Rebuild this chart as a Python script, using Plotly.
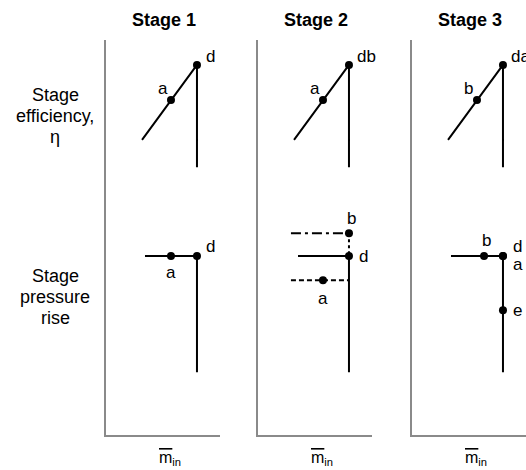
import plotly.graph_objects as go

W, H = 526, 470
FONT = "Liberation Sans, Arial, sans-serif"

stage_titles = ["Stage 1", "Stage 2", "Stage 3"]
row_labels = [["Stage", "efficiency,", "η"], ["Stage", "pressure", "rise"]]
row_label_y = [[95, 116, 137], [276, 297, 318]]

# panel boxes (pixels) used for axis domains
panel_left = [106, 258, 412]
panel_width = 114
axes_top, axes_bottom = 40, 435

# ---- efficiency characteristic (m_in, eta), arbitrary units ----
eff_curve_x = [3.16, 7.98, 7.98]
eff_curve_y = [7.47, 9.37, 6.78]
eff_points = [
    [("a", 5.70, 8.48), ("d", 7.98, 9.37)],
    [("a", 5.70, 8.48), ("db", 7.98, 9.37)],
    [("b", 5.70, 8.48), ("da", 7.98, 9.37)],
]

# ---- pressure-rise characteristic (m_in, dp), arbitrary units ----
pr_curve_x = [[3.42, 7.98, 7.98], [3.51, 7.98, 7.98], [3.42, 7.98, 7.98]]
pr_curve_y = [[4.53, 4.53, 1.59], [4.53, 4.53, 1.59], [4.53, 4.53, 1.59]]
# stage 2 off-design lines
pr2_high_x, pr2_high_y = [2.89, 7.98], [5.11, 5.11]
pr2_link_x, pr2_link_y = [7.98, 7.98], [5.11, 4.53]
pr2_low_x, pr2_low_y = [2.89, 7.98], [3.92, 3.92]
pr_points = [
    [("a", 5.70, 4.53), ("d", 7.98, 4.53)],
    [("b", 7.98, 5.11), ("d", 7.98, 4.53), ("a", 5.70, 3.92)],
    [("b", 6.32, 4.53), ("d", 7.98, 4.53), ("a", 7.98, 4.53), ("e", 7.98, 3.16)],
]

# label placement (xanchor, xshift, yshift) per point
eff_label_pos = [
    [("center", -8, 12), ("left", 7, 8)],
    [("center", -8, 12), ("left", 6, 8)],
    [("center", -8, 12), ("left", 6, 8)],
]
pr_label_pos = [
    [("center", 0, -16), ("left", 7, 10)],
    [("center", 3, 15), ("left", 8, 0), ("center", 0, -18)],
    [("center", 2, 16), ("left", 8, 10), ("left", 8, -8), ("left", 8, 0)],
]

fig = go.Figure()
line_style = dict(color="black", width=2)
axis_color = "#8a8a8a"

annotations = []
for i in range(3):
    sfx = "" if i == 0 else str(i + 1)
    xa, ya = "x" + sfx, "y" + sfx
    L = panel_left[i]
    fig.update_layout(**{
        "xaxis" + sfx: dict(
            domain=[L / W, min(1.0, (L + panel_width) / W)],
            range=[0, 10], showline=True, linecolor=axis_color, linewidth=2,
            showgrid=False, zeroline=False, showticklabels=False, ticks="",
            anchor=ya, fixedrange=True),
        "yaxis" + sfx: dict(
            domain=[1 - axes_bottom / H, 1 - axes_top / H],
            range=[0, 10], showline=True, linecolor=axis_color, linewidth=2,
            showgrid=False, zeroline=False, showticklabels=False, ticks="",
            anchor=xa, fixedrange=True),
    })

    # efficiency curve
    fig.add_trace(go.Scatter(x=eff_curve_x, y=eff_curve_y, mode="lines",
                             line=line_style, xaxis=xa, yaxis=ya,
                             hoverinfo="skip", showlegend=False))
    # pressure-rise curves
    fig.add_trace(go.Scatter(x=pr_curve_x[i], y=pr_curve_y[i], mode="lines",
                             line=line_style, xaxis=xa, yaxis=ya,
                             hoverinfo="skip", showlegend=False))
    if i == 1:
        fig.add_trace(go.Scatter(x=pr2_high_x, y=pr2_high_y, mode="lines",
                                 line=dict(color="black", width=2, dash="10px,4px,3px,4px"),
                                 xaxis=xa, yaxis=ya, hoverinfo="skip", showlegend=False))
        fig.add_trace(go.Scatter(x=pr2_link_x, y=pr2_link_y, mode="lines",
                                 line=dict(color="black", width=2, dash="3px,3px"),
                                 xaxis=xa, yaxis=ya, hoverinfo="skip", showlegend=False))
        fig.add_trace(go.Scatter(x=pr2_low_x, y=pr2_low_y, mode="lines",
                                 line=dict(color="black", width=2, dash="5px,3px"),
                                 xaxis=xa, yaxis=ya, hoverinfo="skip", showlegend=False))

    # operating points
    for pts, pos in ((eff_points[i], eff_label_pos[i]), (pr_points[i], pr_label_pos[i])):
        fig.add_trace(go.Scatter(x=[p[1] for p in pts], y=[p[2] for p in pts],
                                 mode="markers", marker=dict(color="black", size=8),
                                 xaxis=xa, yaxis=ya, hoverinfo="skip", showlegend=False))
        for (name, px, py), (anc, dx, dy) in zip(pts, pos):
            annotations.append(dict(
                x=px, y=py, xref=xa, yref=ya, text=name, showarrow=False,
                xanchor=anc, yanchor="middle", xshift=dx, yshift=dy,
                font=dict(family=FONT, size=17, color="black")))

    # stage title
    annotations.append(dict(
        x=(L + panel_width / 2 + 1) / W, y=1 - 20 / H, xref="paper", yref="paper",
        text="<b>" + stage_titles[i] + "</b>", showarrow=False,
        xanchor="center", yanchor="middle",
        font=dict(family=FONT, size=18, color="black")))
    # abscissa label
    annotations.append(dict(
        x=(L + 64) / W, y=1 - 458 / H, xref="paper", yref="paper",
        text="<span style='text-decoration:overline'>m</span><sub>in</sub>",
        showarrow=False, xanchor="center", yanchor="middle",
        font=dict(family=FONT, size=16, color="black")))

# row labels, one line at a time
for lines, ys in zip(row_labels, row_label_y):
    for text, yc in zip(lines, ys):
        annotations.append(dict(
            x=55 / W, y=1 - yc / H, xref="paper", yref="paper", text=text,
            showarrow=False, xanchor="center", yanchor="middle",
            font=dict(family=FONT, size=18, color="black")))

fig.update_layout(
    width=W, height=H, margin=dict(l=0, r=0, t=0, b=0),
    paper_bgcolor="white", plot_bgcolor="white",
    annotations=annotations, showlegend=False,
)

fig.write_html("out.html")
